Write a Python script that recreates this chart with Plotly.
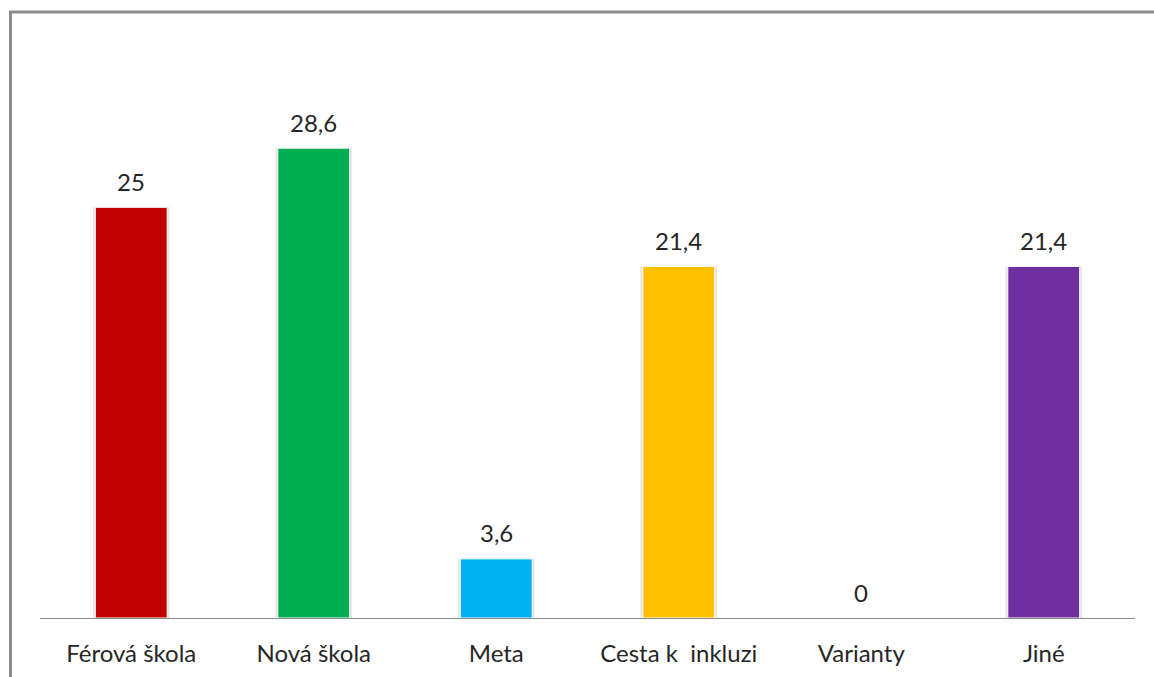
import plotly.graph_objects as go

categories = ["Férová škola", "Nová škola", "Meta", "Cesta k  inkluzi", "Varianty", "Jiné"]
values = [25, 28.6, 3.6, 21.4, 0, 21.4]
colors = ["#C00000", "#00B050", "#00B0F0", "#FFC000", "#7030A0", "#7030A0"]
labels = [f"{v:g}".replace(".", ",") for v in values]

W, H = 1154, 677
L, R, T, B = 40, 19, 43, 59
pw, ph = W - L - R, H - T - B

fig = go.Figure()

# soft shadow behind each bar
fig.add_trace(go.Bar(
    x=categories, y=values, width=0.42, offset=-0.21,
    marker=dict(color="rgba(0,0,0,0.10)", line=dict(width=0)),
    hoverinfo="skip", showlegend=False,
))
fig.add_trace(go.Bar(
    x=categories, y=values, width=0.394, offset=-0.197,
    marker=dict(color=colors, line=dict(color="white", width=1)),
    showlegend=False,
))

for c, v, t in zip(categories, values, labels):
    fig.add_annotation(x=c, y=v, text=t, showarrow=False, yshift=26,
                       font=dict(family="Lato", size=24, color="#262626"))

# outer frame
fig.add_shape(type="rect", xref="paper", yref="paper",
              x0=(10.5 - L) / pw, x1=(W + 20 - L) / pw,
              y0=(T + ph - (H + 20)) / ph, y1=(T + ph - 12) / ph,
              line=dict(color="#8c8c8c", width=3), fillcolor="rgba(0,0,0,0)")

fig.update_layout(
    width=W, height=H, barmode="overlay",
    margin=dict(l=L, r=R, t=T, b=B, autoexpand=False),
    plot_bgcolor="white", paper_bgcolor="white",
    separators=", ",
    font=dict(family="Lato", size=24, color="#262626"),
    xaxis=dict(showline=True, linecolor="#8a8a8a", linewidth=1, showgrid=False,
               automargin=False, ticks="", ticklabelstandoff=14,
               tickfont=dict(size=24, color="#262626")),
    yaxis=dict(range=[0, 35], visible=False, showgrid=False, zeroline=False,
               automargin=False),
)

fig.write_html("out.html")
